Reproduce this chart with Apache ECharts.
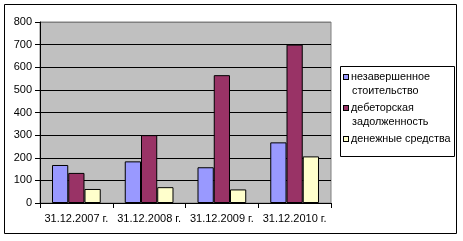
<!DOCTYPE html>
<html><head><meta charset="utf-8">
<script src="https://cdn.jsdelivr.net/npm/echarts@6/dist/echarts.min.js"></script>
<style>html,body{margin:0;padding:0;background:#fff}#c{width:463px;height:241px}</style>
</head><body><div id="c"></div>
<script>
const categories = ['31.12.2007 г.', '31.12.2008 г.', '31.12.2009 г.', '31.12.2010 г.'];
const seriesNames = ['незавершенное стоительство', 'дебеторская задолженность', 'денежные средства'];
const legendLabels = [['незавершенное', 'стоительство'], ['дебеторская', 'задолженность'], ['денежные средства']];
const unfinished = [168, 184, 158, 268];
const receivables = [133, 300, 565, 700];
const cash = [62, 70, 60, 206];
const yTicks = [0, 100, 200, 300, 400, 500, 600, 700, 800];
const colors = ['#9999FF', '#993366', '#FFFFCC'];
const values = [unfinished, receivables, cash];

const font = 'Liberation Sans, Arial, sans-serif';
const rich = {};
colors.forEach((c, i) => {
  rich['sq' + i] = {width: 4, height: 4, backgroundColor: c, borderColor: '#000', borderWidth: 1};
});
rich.t = {fontFamily: font, fontSize: 10.8, color: '#000', lineHeight: 14, padding: [0, 0, 0, 3]};
rich.s = {width: 5, height: 4};

const splitColors = yTicks.map((t, i) => i === yTicks.length - 1 ? '#808080' : '#000');

const chart = echarts.init(document.getElementById('c'), null, {renderer: 'canvas'});
chart.setOption({
  animation: false,
  backgroundColor: '#fff',
  graphic: [
    {type: 'rect', shape: {x: 4.5, y: 4.5, width: 452, height: 229}, style: {fill: 'none', stroke: '#000', lineWidth: 1}, z: -1},
    {type: 'rect', shape: {x: 340.5, y: 66.5, width: 114, height: 90}, style: {fill: 'none', stroke: '#000', lineWidth: 1}, z: 10}
  ],
  grid: {left: 40, top: 22, width: 291, height: 181, show: true, backgroundColor: '#C0C0C0', borderColor: '#808080', borderWidth: 1},
  legend: {
    orient: 'vertical', left: 338, top: 71, itemWidth: 0, itemHeight: 0, itemGap: 5,
    padding: 0, selectedMode: false,
    icon: 'rect',
    data: seriesNames,
    formatter: function (name) {
      const i = seriesNames.indexOf(name);
      const lines = legendLabels[i];
      return lines.map((l, k) => (k === 0 ? '{sq' + i + '|}' : '{s|}') + '{t|' + l + '}').join('\n');
    },
    textStyle: {rich: rich, padding: 0}
  },
  xAxis: {
    type: 'category', data: categories,
    axisLine: {lineStyle: {color: '#000', width: 1}},
    axisTick: {show: true, length: 5, lineStyle: {color: '#000'}, alignWithLabel: false},
    axisLabel: {color: '#000', fontFamily: font, fontSize: 11, margin: 10, interval: 0},
    splitLine: {show: false}
  },
  yAxis: {
    type: 'value', min: 0, max: 800, interval: 100,
    axisLine: {show: true, lineStyle: {color: '#000', width: 1}},
    axisTick: {show: true, length: 5, lineStyle: {color: '#000'}},
    axisLabel: {color: '#000', fontFamily: font, fontSize: 11, margin: 8},
    splitLine: {show: true, lineStyle: {color: splitColors, width: 1}}
  },
  series: seriesNames.map((n, i) => ({
    name: n, type: 'bar', data: values[i],
    barGap: '0%', barCategoryGap: '33%',
    itemStyle: {color: colors[i], borderColor: '#000', borderWidth: 1}
  }))
});
</script></body></html>
